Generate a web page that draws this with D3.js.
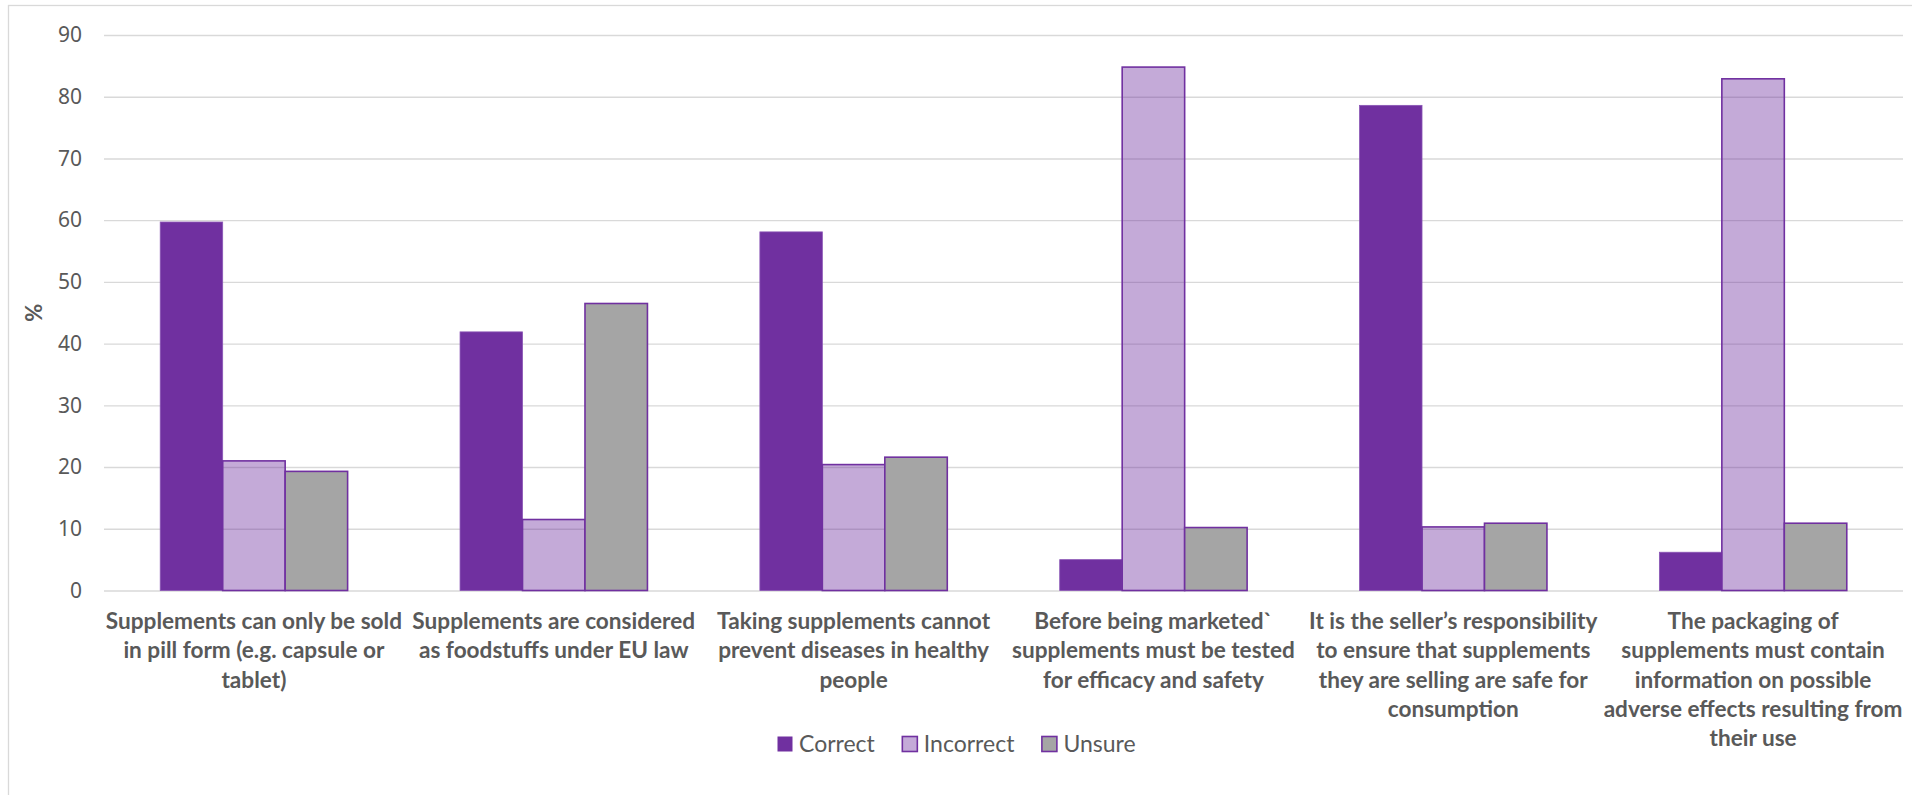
<!DOCTYPE html>
<html>
<head>
<meta charset="utf-8">
<script src="https://cdn.jsdelivr.net/npm/d3@7"></script>
<style>
  html, body { margin: 0; padding: 0; background: #fff; }
  svg { display: block; }
</style>
</head>
<body>
<svg id="chart" width="1912" height="795"></svg>
<script>
// ---- Data ----
const categories = [
  "Supplements can only be sold in pill form (e.g. capsule or tablet)",
  "Supplements are considered as foodstuffs under EU law",
  "Taking supplements cannot prevent diseases in healthy people",
  "Before being marketed` supplements must be tested for efficacy and safety",
  "It is the seller’s responsibility to ensure that supplements they are selling are safe for consumption",
  "The packaging of supplements must contain information on possible adverse effects resulting from their use"
];
const categoryLines = [
  ["Supplements can only be sold", "in pill form (e.g. capsule or", "tablet)"],
  ["Supplements are considered", "as foodstuffs under EU law"],
  ["Taking supplements cannot", "prevent diseases in healthy", "people"],
  ["Before being marketed`", "supplements must be tested", "for efficacy and safety"],
  ["It is the seller’s responsibility", "to ensure that supplements", "they are selling are safe for", "consumption"],
  ["The packaging of", "supplements must contain", "information on possible", "adverse effects resulting from", "their use"]
];
const seriesNames = ["Correct", "Incorrect", "Unsure"];
const correct   = [59.7, 41.9, 58.1, 5.0, 78.6, 6.2];
const incorrect = [21.0, 11.5, 20.4, 84.8, 10.3, 82.9];
const unsure    = [19.3, 46.5, 21.6, 10.2, 10.9, 10.9];
const yTicks = [0, 10, 20, 30, 40, 50, 60, 70, 80, 90];
const yLabel = "%";

const seriesValues = [correct, incorrect, unsure];
const seriesStyle = {
  Correct:   { fill: "#7030A0", fillOpacity: 1,    stroke: "#8a55b5", strokeWidth: 0.8 },
  Incorrect: { fill: "#7030A0", fillOpacity: 0.41, stroke: "#7030A0", strokeWidth: 1.6 },
  Unsure:    { fill: "#A5A5A5", fillOpacity: 1,    stroke: "#7030A0", strokeWidth: 1.6 }
};

// ---- Layout ----
const svg = d3.select("#chart");
const plot = { left: 104, right: 1903, top: 35, bottom: 590.5 };
const textColor = "#595959";
const gridColor = "#D9D9D9";

// outer chart border
svg.append("rect")
  .attr("x", 8.5).attr("y", 5.5)
  .attr("width", 2000).attr("height", 2000)
  .attr("fill", "none").attr("stroke", gridColor).attr("stroke-width", 1.3);

const x = d3.scaleBand()
  .domain(d3.range(categories.length))
  .range([plot.left, plot.right])
  .paddingInner(0.375)
  .paddingOuter(0.1875);

const xs = d3.scaleBand()
  .domain(seriesNames)
  .range([0, x.bandwidth()])
  .padding(0);

const y = d3.scaleLinear()
  .domain([0, 90])
  .range([plot.bottom, plot.top]);

// gridlines
const yAxis = d3.axisLeft(y)
  .tickValues(yTicks)
  .tickSize(-(plot.right - plot.left))
  .tickPadding(22)
  .tickFormat(d3.format("d"));

const gy = svg.append("g")
  .attr("transform", `translate(${plot.left},0)`)
  .call(yAxis);
gy.select(".domain").remove();
gy.selectAll(".tick line").attr("stroke", gridColor).attr("stroke-width", 1.4);
gy.selectAll(".tick text")
  .attr("fill", textColor)
  .style("font-family", "'Noto Sans', 'Open Sans', sans-serif")
  .style("font-size", "21px");

// y label
svg.append("text")
  .attr("transform", `translate(42, ${(plot.top + plot.bottom) / 2}) rotate(-90)`)
  .attr("text-anchor", "middle")
  .attr("fill", textColor)
  .style("font-family", "Lato, 'Noto Sans', sans-serif")
  .style("font-weight", "bold")
  .style("font-size", "22px")
  .text(yLabel);

// bars
const groups = svg.append("g").selectAll("g")
  .data(categories.map((c, i) => i))
  .join("g")
  .attr("transform", i => `translate(${x(i)},0)`);

groups.selectAll("rect")
  .data(i => seriesNames.map((s, k) => ({ s, v: seriesValues[k][i] })))
  .join("rect")
  .attr("x", d => xs(d.s))
  .attr("width", xs.bandwidth())
  .attr("y", d => y(d.v))
  .attr("height", d => y(0) - y(d.v))
  .attr("fill", d => seriesStyle[d.s].fill)
  .attr("fill-opacity", d => seriesStyle[d.s].fillOpacity)
  .attr("stroke", d => seriesStyle[d.s].stroke)
  .attr("stroke-width", d => seriesStyle[d.s].strokeWidth);

// category labels
const labelG = svg.append("g");
categoryLines.forEach((lines, i) => {
  const t = labelG.append("text")
    .attr("text-anchor", "middle")
    .attr("fill", textColor)
    .style("font-family", "Lato, 'Noto Sans', sans-serif")
    .style("font-weight", "bold")
    .style("font-size", "22.6px");
  lines.forEach((ln, j) => {
    t.append("tspan")
      .attr("x", x(i) + x.bandwidth() / 2)
      .attr("y", 629 + j * 29.3)
      .text(ln);
  });
});

// legend
const legend = svg.append("g");
let lx = 777;
seriesNames.forEach(s => {
  const st = seriesStyle[s];
  legend.append("rect")
    .attr("x", lx + 0.5).attr("y", 736.5)
    .attr("width", 15).attr("height", 15)
    .attr("fill", st.fill).attr("fill-opacity", st.fillOpacity)
    .attr("stroke", s === "Correct" ? "none" : st.stroke)
    .attr("stroke-width", 1.6);
  const t = legend.append("text")
    .attr("x", lx + 22).attr("y", 752)
    .attr("fill", textColor)
    .style("font-family", "Lato, 'Noto Sans', sans-serif")
    .style("font-size", "23px")
    .text(s);
  lx += 22 + t.node().getComputedTextLength() + 27;
});
</script>
</body>
</html>
